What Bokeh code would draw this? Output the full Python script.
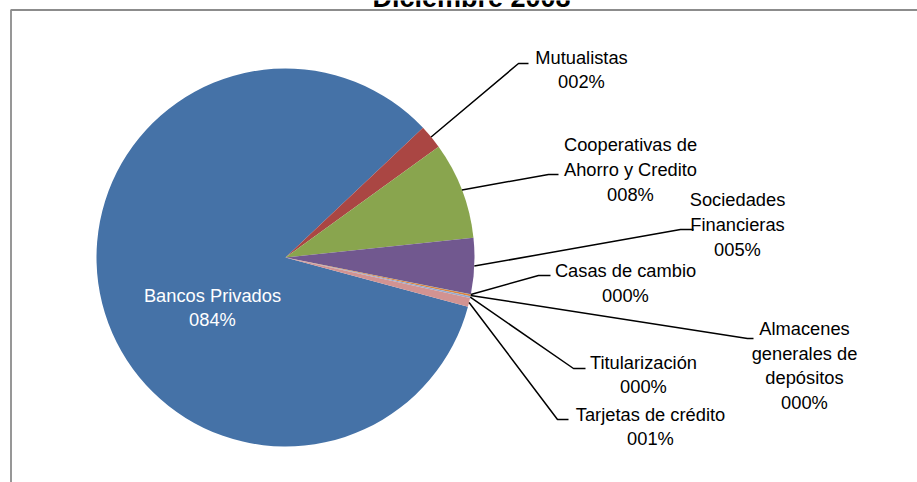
import math
import textwrap
import numpy as np
from bokeh.plotting import figure
from bokeh.models import ColumnDataSource, Range1d
from bokeh.core.properties import value
from bokeh.embed import file_html
from bokeh.resources import INLINE

# ---------------- data ----------------
title = "Diciembre 2008"
categories = [
    "Bancos Privados",
    "Mutualistas",
    "Cooperativas de Ahorro y Credito",
    "Sociedades Financieras",
    "Casas de cambio",
    "Almacenes generales de depósitos",
    "Titularización",
    "Tarjetas de crédito",
]
shares = [83.8, 2.06, 8.3, 4.8, 0.02, 0.15, 0.15, 0.75]
colors = ["#4572A7", "#AA4643", "#89A54E", "#71588F",
          "#4198AF", "#DB843D", "#93A9CF", "#D19392"]

# ---------------- layout (pixels, page coordinates, y down) ----------------
W, H = 917, 482
CX, CY, R = 285, 257, 189
START_DEG = -15.1          # first slice starts here, drawn clockwise
FONT = "Liberation Sans"
FS = 18.3
wrap_width = [20, 20, 16, 11, 20, 12, 20, 20]
label_center = [(212, 307), (581, 69), (630, 169), (737, 224), (625, 282.5),
                (804, 365), (643, 374), (650, 426)]
elbow = [None, ((518, 63), (528, 63)), ((548, 174), (558, 174)),
         ((680, 229), (693, 229)), ((538, 275), (550, 275)),
         ((747, 338), (753, 338)), ((573, 368), (585, 368)),
         ((557, 419), (568, 419))]

def Y(y):
    return H - y

p = figure(width=W, height=H, output_backend="svg", toolbar_location=None,
           x_range=Range1d(0, W), y_range=Range1d(0, H), min_border=0,
           background_fill_color="white", border_fill_color="white")
p.xaxis.visible = False
p.yaxis.visible = False
p.grid.visible = False
p.outline_line_color = None

# chart frame
p.quad(left=[10.5], right=[W + 20], top=[Y(9.5)], bottom=[-20],
       fill_color=None, line_color="#8c8c8c", line_width=1.8)

# pie
total = sum(shares)
fr = np.array(shares) / total
ends = START_DEG - np.concatenate([[0], np.cumsum(fr)[:-1]]) * 360.0   # upper angle of each slice
lows = ends - fr * 360.0
src = ColumnDataSource(dict(
    start=np.radians(lows), end=np.radians(ends), color=colors,
    x=[CX] * len(shares), y=[Y(CY)] * len(shares)))
p.wedge(x="x", y="y", radius=R, start_angle="start", end_angle="end",
        direction="anticlock", fill_color="color", line_color=None, source=src)

# leader lines
for i in range(len(categories)):
    if elbow[i] is None:
        continue
    mid = math.radians((ends[i] + lows[i]) / 2)
    sx = CX + R * math.cos(mid)
    sy = Y(CY) + R * math.sin(mid)
    (ex, ey), (hx, hy) = elbow[i]
    p.line([sx, ex, hx], [sy, Y(ey), Y(hy)], line_color="black", line_width=1.5)

# labels
for i, name in enumerate(categories):
    lines = textwrap.wrap(name, wrap_width[i])
    pct = f"{int(round(shares[i] / total * 100)):03d}%"
    txt = "\n".join(lines + [pct])
    lx, ly = label_center[i]
    p.text(x=[lx], y=[Y(ly)], text=[txt], text_align="center",
           text_baseline="middle", text_font=value(FONT),
           text_font_size=f"{FS}px", text_line_height=1.18,
           text_color="white" if i == 0 else "black")

# title (only its lower part is visible)
p.text(x=[471], y=[Y(12)], text=[title], text_align="center",
       text_baseline="bottom", text_font=value(FONT),
       text_font_size="27px", text_font_style="bold", text_color="black")

open("out.html", "w").write(file_html(p, INLINE))
